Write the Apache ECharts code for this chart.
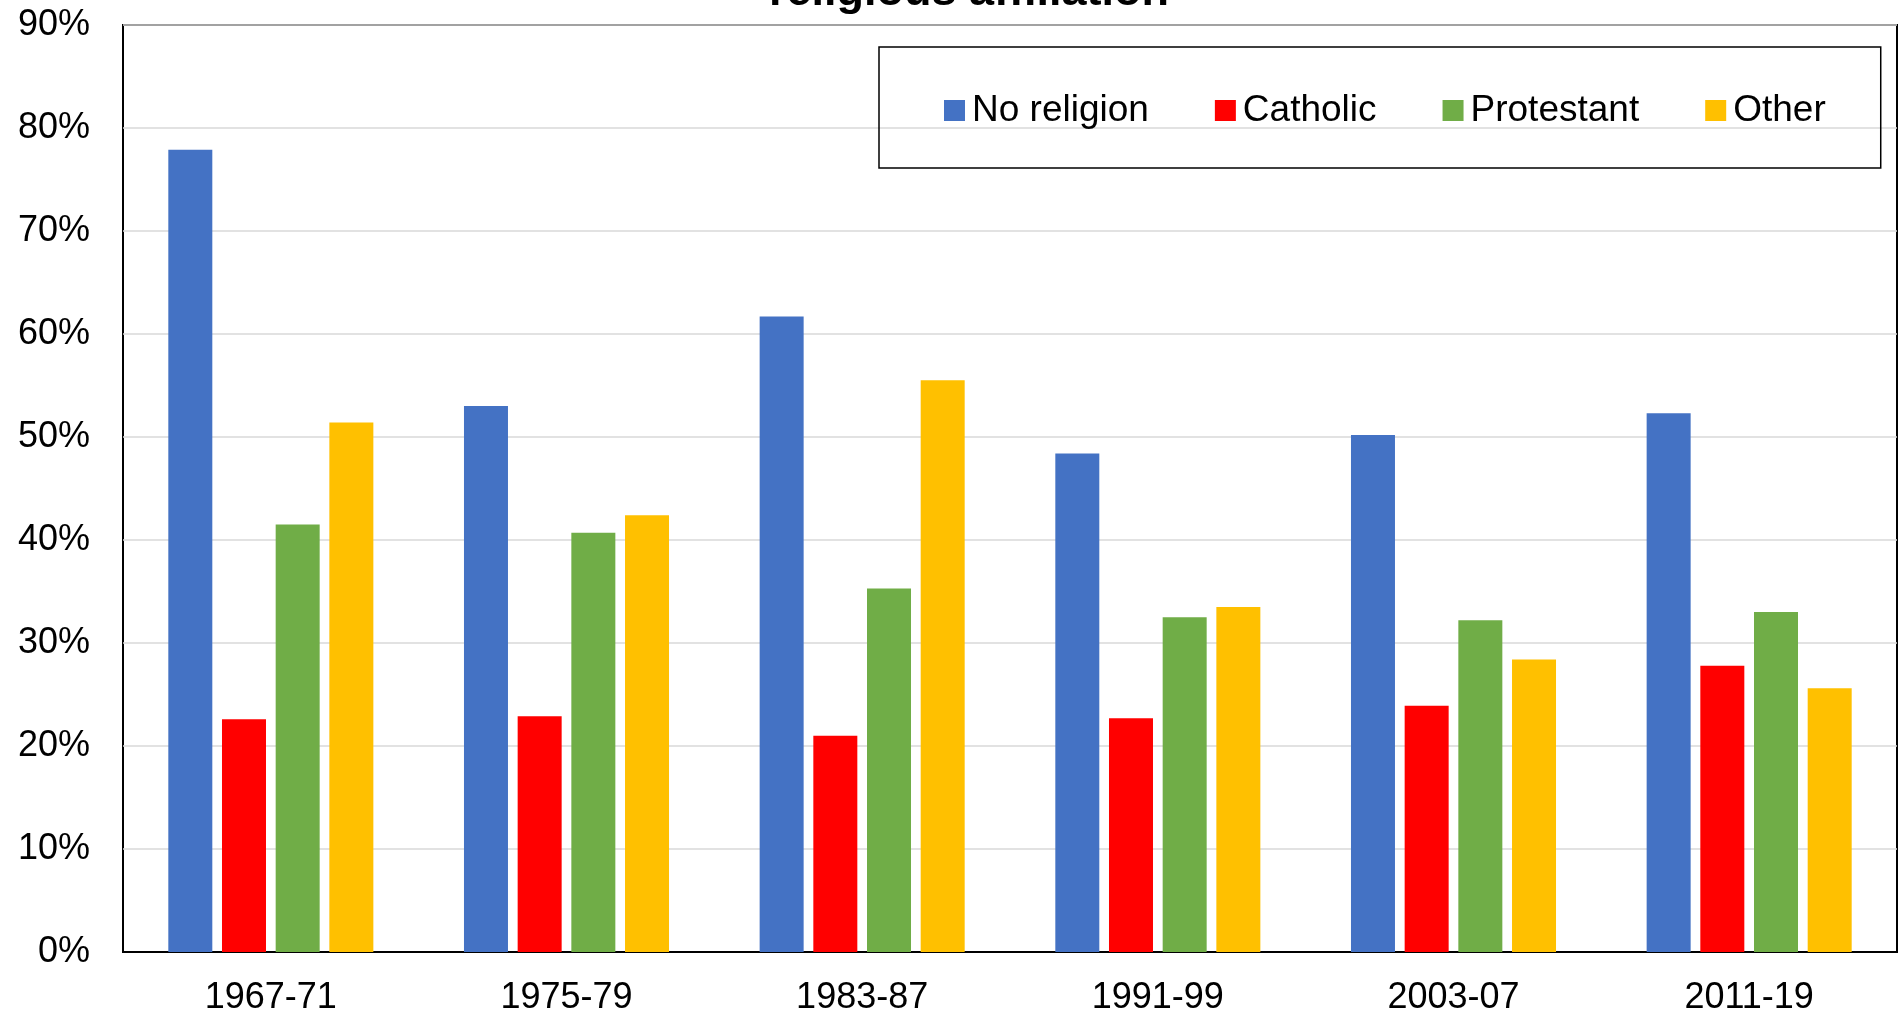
<!DOCTYPE html>
<html>
<head>
<meta charset="utf-8">
<title>religious affiliation</title>
<script src="https://cdn.jsdelivr.net/npm/echarts@6/dist/echarts.min.js"></script>
<style>
  html, body { margin: 0; padding: 0; background: #fff; }
  #chart { width: 1899px; height: 1016px; }
</style>
</head>
<body>
<div id="chart"></div>
<script>
const periods = ["1967-71", "1975-79", "1983-87", "1991-99", "2003-07", "2011-19"];
const noReligion = [77.9, 53.0, 61.7, 48.4, 50.2, 52.3];
const catholic = [22.6, 22.9, 21.0, 22.7, 23.9, 27.8];
const protestant = [41.5, 40.7, 35.3, 32.5, 32.2, 33.0];
const other = [51.4, 42.4, 55.5, 33.5, 28.4, 25.6];

const font = "'Liberation Sans', Arial, sans-serif";

const chart = echarts.init(document.getElementById("chart"));

const bar = (name, data, color) => ({
  name: name,
  type: "bar",
  data: data,
  barWidth: 44,
  barGap: "22%",
  itemStyle: { color: color },
});

chart.setOption({
  animation: false,
  title: {
    text: "religious affiliation",
    left: 964,
    top: -35,
    textAlign: "center",
    textStyle: { fontFamily: font, fontSize: 45, fontWeight: "bold", color: "#000" },
  },
  legend: {
    left: 879,
    top: 47,
    padding: [45, 55, 39, 65],
    itemGap: 66,
    itemWidth: 21,
    itemHeight: 21,
    icon: "rect",
    borderColor: "#000",
    borderWidth: 1.5,
    textStyle: { fontFamily: font, fontSize: 37, color: "#000", padding: [0, 0, 0, 2] },
  },
  grid: {
    left: 123,
    top: 25,
    right: 2,
    bottom: 63,
    show: true,
    borderColor: "#000",
    borderWidth: 2,
  },
  xAxis: {
    type: "category",
    data: periods,
    axisLine: { lineStyle: { color: "#000", width: 2 } },
    axisTick: { show: false },
    axisLabel: { fontFamily: font, fontSize: 36, color: "#000", margin: 28 },
  },
  yAxis: {
    type: "value",
    min: 0,
    max: 90,
    interval: 10,
    axisLine: { show: false },
    axisLabel: { fontFamily: font, fontSize: 36, color: "#000", margin: 33, formatter: "{value}%" },
    splitLine: { lineStyle: { color: "#d9d9d9", width: 1.5 } },
  },
  series: [
    bar("No religion", noReligion, "#4472C4"),
    bar("Catholic", catholic, "#FF0000"),
    bar("Protestant", protestant, "#70AD47"),
    bar("Other", other, "#FFC000"),
  ],
});
</script>
</body>
</html>
